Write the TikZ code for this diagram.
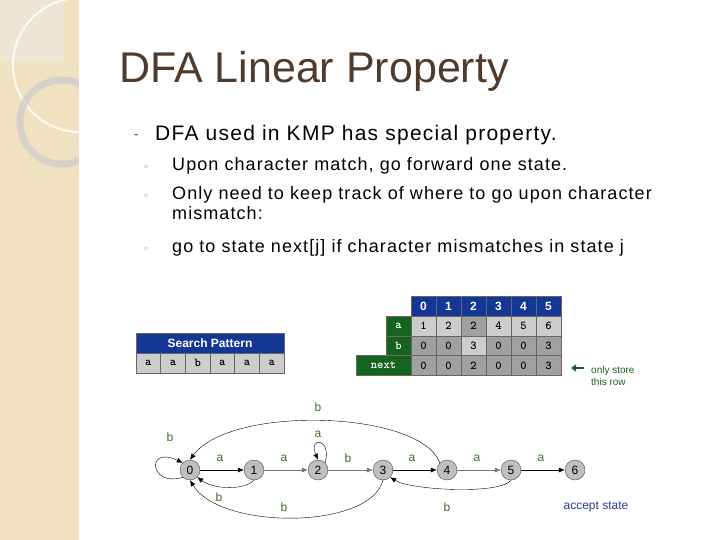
\documentclass[tikz,border=0pt]{standalone}
\usepackage{fontspec}
\setmainfont{Liberation Sans}
\newfontfamily\dejavu{DejaVu Sans}
\newfontfamily\spaced[LetterSpace=6]{Liberation Sans}
\usetikzlibrary{arrows.meta}
\definecolor{strip}{RGB}{240,226,192}
\definecolor{titlec}{RGB}{80,58,42}
\definecolor{hdrblue}{RGB}{20,55,150}
\definecolor{lgreen}{RGB}{20,100,30}
\definecolor{lcell}{RGB}{205,205,205}
\definecolor{dcell}{RGB}{160,160,160}
\definecolor{lblgreen}{RGB}{60,110,40}
\definecolor{acc}{RGB}{40,60,150}
\begin{document}
\begin{tikzpicture}[x=1pt,y=-1pt,
  st/.style={circle,draw=black!70,fill=black!25,minimum size=20pt,inner sep=0pt,font=\fontsize{12}{12}\selectfont},
  ed/.style={-{Latex[length=6pt,width=5pt]},thin},
  lb/.style={text=lblgreen,font=\fontsize{12}{12}\selectfont},
  cell/.style={draw=black!60,minimum width=25pt,minimum height=20pt,inner sep=0pt,font=\ttfamily\bfseries\fontsize{12}{12}\selectfont},
  hcell/.style={cell,fill=hdrblue,text=white,font=\bfseries\fontsize{12}{12}\selectfont},
  gcell/.style={cell,fill=lgreen,text=white}]
\useasboundingbox (0,0) rectangle (720,540);
\fill[white] (0,0) rectangle (720,540);
\fill[strip] (0,0) rectangle (79,540);
\fill[black!8,opacity=0.5] (0,0) rectangle (64,62);
\draw[white,line width=2pt,opacity=0.8] (80,65) circle (67);
\begin{scope}
\clip (0,0) rectangle (79,540);
\draw[black!20,line width=7pt,opacity=0.7] (62,122) circle (42);
\end{scope}
\fill[white] (79,0) rectangle (720,540);
% title and text
\node[anchor=base west,text=titlec,font=\fontsize{43}{43}\selectfont,inner sep=0] (title) at (119,83) {DFA Linear Property};
\node[anchor=base west,text=orange!70!black,font=\dejavu\fontsize{12}{12}\selectfont,inner sep=0] (b0) at (133,140) {⁃};
\node[anchor=base west,font=\spaced\fontsize{21}{21}\selectfont,inner sep=0] (t0) at (155,141) {DFA used in KMP has special property.};
\foreach \y/\t [count=\i] in {171/{Upon character match, go forward one state.},200/{Only need to keep track of where to go upon character},252/{go to state next[j] if character mismatches in state j}}{
  \node[anchor=base west,text=black!60,font=\dejavu\fontsize{10}{10}\selectfont,inner sep=0] (sb\i) at (143,\y) {◦};
  \node[anchor=base west,font=\spaced\fontsize{18}{18}\selectfont,inner sep=0] (st\i) at (172,\y) {\t};
}
\node[anchor=base west,font=\spaced\fontsize{18}{18}\selectfont,inner sep=0] (st4) at (172,220) {mismatch:};
% search pattern
\node[hcell,minimum width=148pt,font=\bfseries\fontsize{12}{12}\selectfont] (sp) at (210,343) {Search Pattern};
\foreach \c [count=\i] in {a,a,b,a,a,a}{
  \node[cell,fill=lcell,minimum width=24.67pt] (p\i) at ({136+(\i-0.5)*24.67},363) {\c};
}
% dfa table
\foreach \i in {0,...,5}{ \node[hcell] (h\i) at ({423.5+\i*25},306.5) {\i}; }
\node[gcell] (ra) at (398.5,326) {a};
\node[gcell] (rb) at (398.5,346) {b};
\node[gcell,minimum width=55pt] (rn) at (383.5,365.5) {next};
\foreach \v/\c [count=\i from 0] in {1/lcell,2/lcell,2/dcell,4/lcell,5/lcell,6/lcell}{ \node[cell,fill=\c] (a\i) at ({423.5+\i*25},326) {\v}; }
\foreach \v/\c [count=\i from 0] in {0/dcell,0/dcell,3/lcell,0/dcell,0/dcell,3/dcell}{ \node[cell,fill=\c] (b\i) at ({423.5+\i*25},346) {\v}; }
\foreach \v [count=\i from 0] in {0,0,2,0,0,3}{ \node[cell,fill=dcell] (n\i) at ({423.5+\i*25},365.5) {\v}; }
\coordinate (arrT) at (571,368);
\coordinate (arrH) at (584,368);
\draw[lgreen,line width=2.5pt,-{Triangle[length=5pt,width=7pt]}] (arrH) -- (arrT);
\node[anchor=west,align=left,text=lgreen,font=\fontsize{10}{12}\selectfont,inner sep=0] (only) at (591,376) {only store\\this row};
% DFA graph
\foreach \i/\x in {0/190,1/254,2/318,3/383,4/447,5/511,6/575}{ \node[st] (s\i) at (\x,470) {\i}; }
\draw[ed] (s0) -- (s1);
\draw[ed,black!55] (s1) -- (s2);
\draw[ed,black!55] (s2) -- (s3);
\draw[ed] (s3) -- (s4);
\draw[ed,black!55] (s4) -- (s5);
\draw[ed] (s5) -- (s6);
\node[lb] (la1) at (220,458) {a};
\node[lb] (la2) at (284,458) {a};
\node[lb] (lb3) at (348,458) {b};
\node[lb] (la4) at (412,458) {a};
\node[lb] (la5) at (477,458) {a};
\node[lb] (la6) at (541,458) {a};
\draw[ed] (s0.south west) .. controls (150,488) and (145,445) .. (s0.north west);
\node[lb] (lb0) at (170,437) {b};
\draw[ed] (s2.north east) .. controls (332,438) and (308,436) .. (s2.north);
\node[lb] (la22) at (318,434) {a};
\draw[ed] (s4.north west) .. controls (420,410) and (230,405) .. (s0.north);
\node[lb] (lb40) at (318,407) {b};
\draw[ed] (s1.south) .. controls (245,490) and (215,490) .. (s0.south east);
\node[lb] (lb10) at (219,497) {b};
\draw[ed] (s3.south) .. controls (370,530) and (220,530) .. (s0.south);
\node[lb] (lb30) at (284,507) {b};
\draw[ed] (s5.south) .. controls (500,495) and (410,490) .. (s3.south east);
\node[lb] (lb53) at (447,507) {b};
\node[text=acc,font=\fontsize{12}{12}\selectfont] (accept) at (596,507) {accept state};
\end{tikzpicture}
\end{document}
